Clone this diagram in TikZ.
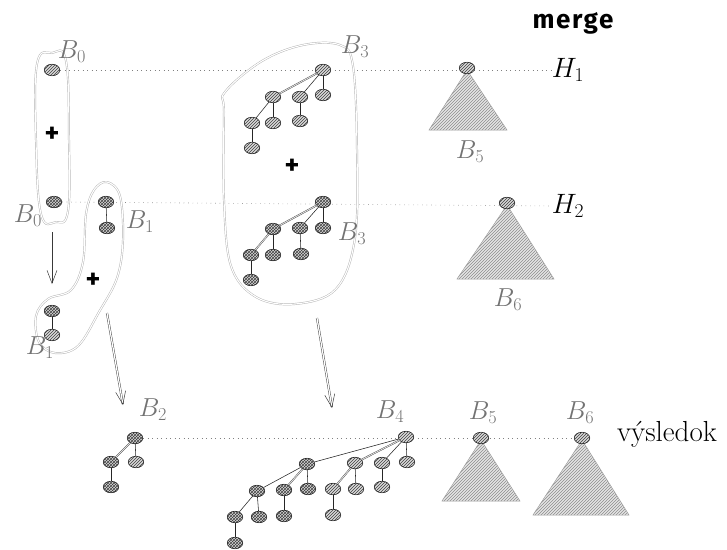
\RequirePackage{fix-cm}
\documentclass[tikz,border=0pt]{standalone}
\usepackage{fontspec}
\newfontfamily\handfont[LetterSpace=6]{Fira Sans}
\usetikzlibrary{shapes.geometric,patterns,arrows.meta,backgrounds}

\tikzset{
  heapnode/.style={ellipse, draw=black!85, line width=0.6pt,
    minimum width=15.5pt, minimum height=11.5pt, inner sep=0pt,
    preaction={fill=gray!30}},
  hn/.style={heapnode, pattern=north east lines, pattern color=black!75},
  cn/.style={heapnode, pattern=crosshatch, pattern color=black!75},
  tedge/.style={draw=black!85, line width=0.55pt},
  dedge/.style={draw=black!80, line width=0.35pt, double=gray!25, double distance=0.9pt},
  tri/.style={draw=gray!75, line width=0.5pt, preaction={fill=gray!20},
    pattern=north east lines, pattern color=gray!90},
  blob/.style={draw=gray!60, line width=0.45pt, double=white, double distance=1.1pt},
  dotline/.style={draw=black!50, line width=0.6pt, dash pattern=on 0.7pt off 3.8pt},
  lbl/.style={text=black!55, font=\fontsize{26}{30}\selectfont, inner sep=0pt},
  hlbl/.style={text=black, font=\fontsize{28}{32}\selectfont, inner sep=0pt},
  plussign/.style={font=\handfont\bfseries\fontsize{28}{30}\selectfont, inner sep=0pt},
  single arrow/.style={draw=gray!45!black, line width=0.5pt,
    -{Straight Barb[length=13pt, width=10pt, line width=0.5pt]}},
  double arrow/.style={draw=gray!45!black, line width=0.4pt, double=white,
    double distance=1.3pt, -{Straight Barb[length=13pt, width=10pt, line width=0.5pt]}},
}

\begin{document}
\begin{tikzpicture}[x=1pt, y=-1pt]
\useasboundingbox (0,0) rectangle (727,549);

% ---------- outlines of the heaps being merged ----------
\draw[blob] plot[smooth cycle, tension=0.7] coordinates
  {(52,53) (66,61) (69,140) (68,211) (56,222) (41,214) (36,140) (37,64)};
\draw[blob] plot[smooth cycle, tension=0.6] coordinates
  {(107,182) (120,196) (123,240) (117,278) (99,312) (78,346) (55,353)
   (39,342) (36,316) (48,299) (71,290) (83,262) (86,214) (94,190)};
\draw[blob] plot[smooth cycle, tension=0.6] coordinates
  {(225,92) (262,61) (303,45) (340,45) (353,66) (357,150) (355,238)
   (336,289) (295,304) (256,297) (231,266) (224,200) (224,112)};

% ---------- triangles of the big trees ----------
\draw[tri] (467,70) -- (429,130) -- (507,130) -- cycle;
\draw[tri] (507,205) -- (457,279) -- (554,279) -- cycle;
\draw[tri] (481,440) -- (442,501) -- (520,501) -- cycle;
\draw[tri] (582,440) -- (533,515) -- (629,515) -- cycle;

% ---------- heap H1 ----------
\node[hn] (b0a) at (52,70) {};
\node[hn] (t0) at (323,70) {};
\node[hn] (t1) at (273,97) {};
\node[hn] (t2) at (300,97) {};
\node[hn] (t3) at (323,95) {};
\node[hn] (t4) at (252,123) {};
\node[hn] (t5) at (273,123) {};
\node[hn] (t6) at (300,121) {};
\node[hn] (t7) at (252,148) {};
\draw[dedge] (t0) -- (t1);
\draw[tedge] (t0) -- (t2);
\draw[tedge] (t0) -- (t3);
\draw[tedge] (t1) -- (t4);
\draw[tedge] (t1) -- (t5);
\draw[tedge] (t2) -- (t6);
\draw[tedge] (t4) -- (t7);
\node[hn] (b5a) at (467,68) {};

% ---------- heap H2 ----------
\node[cn] (b0b) at (54,202) {};
\node[cn] (b1a) at (106,202) {};
\node[cn] (b1b) at (107,228) {};
\draw[tedge] (b1a) -- (b1b);
\node[cn] (u0) at (323,202) {};
\node[cn] (u1) at (273,229) {};
\node[cn] (u2) at (300,228) {};
\node[cn] (u3) at (323,228) {};
\node[cn] (u4) at (251,255) {};
\node[cn] (u5) at (273,255) {};
\node[cn] (u6) at (301,254) {};
\node[cn] (u7) at (251,280) {};
\draw[dedge] (u0) -- (u1);
\draw[tedge] (u0) -- (u2);
\draw[tedge] (u0) -- (u3);
\draw[dedge] (u1) -- (u4);
\draw[tedge] (u1) -- (u5);
\draw[tedge] (u2) -- (u6);
\draw[tedge] (u4) -- (u7);
\node[hn] (b6a) at (507,203) {};

% ---------- B1 obtained from B0 + B0 ----------
\node[cn] (b1c) at (52,311) {};
\node[hn] (b1d) at (52,335) {};
\draw[tedge] (b1c) -- (b1d);

% ---------- result heap ----------
\node[cn] (r0) at (135,438) {};
\node[cn] (r1) at (111,462) {};
\node[hn] (r2) at (136,462) {};
\node[cn] (r3) at (111,487) {};
\draw[dedge] (r0) -- (r1);
\draw[tedge] (r0) -- (r2);
\draw[tedge] (r1) -- (r3);

\node[hn] (s0) at (406,437) {};
\node[cn] (s1) at (307,464) {};
\node[hn] (s2) at (355,463) {};
\node[hn] (s3) at (382,463) {};
\node[hn] (s4) at (407,462) {};
\node[cn] (s5) at (257,491) {};
\node[cn] (s6) at (284,490) {};
\node[cn] (s7) at (308,489) {};
\node[cn] (s8) at (235,517) {};
\node[cn] (s9) at (259,517) {};
\node[cn] (s10) at (284,516) {};
\node[cn] (s11) at (235,543) {};
\node[hn] (s12) at (333,489) {};
\node[hn] (s13) at (356,489) {};
\node[hn] (s14) at (382,487) {};
\node[hn] (s15) at (333,515) {};
\draw[tedge] (s0) -- (s1);
\draw[dedge] (s0) -- (s2);
\draw[tedge] (s0) -- (s3);
\draw[tedge] (s0) -- (s4);
\draw[tedge] (s1) -- (s5);
\draw[dedge] (s1) -- (s6);
\draw[tedge] (s1) -- (s7);
\draw[tedge] (s5) -- (s8);
\draw[tedge] (s5) -- (s9);
\draw[tedge] (s6) -- (s10);
\draw[tedge] (s8) -- (s11);
\draw[dedge] (s2) -- (s12);
\draw[tedge] (s2) -- (s13);
\draw[tedge] (s3) -- (s14);
\draw[tedge] (s12) -- (s15);

\node[hn] (b5b) at (481,438) {};
\node[hn] (b6b) at (582,438) {};

% ---------- labels ----------
\node[lbl] (lb0a) at (72,52) {$B_0$};
\node[lbl] (lb0b) at (28,216) {$B_0$};
\node[lbl] (lb1a) at (140,222) {$B_1$};
\node[lbl] (lb1b) at (40,348) {$B_1$};
\node[lbl] (lb3a) at (355,47) {$B_3$};
\node[lbl] (lb3b) at (352,234) {$B_3$};
\node[lbl] (lb5a) at (470,152) {$B_5$};
\node[lbl] (lb6a) at (508,300) {$B_6$};
\node[lbl] (lb2) at (153,410) {$B_2$};
\node[lbl] (lb4) at (390,412) {$B_4$};
\node[lbl] (lb5b) at (483,413) {$B_5$};
\node[lbl] (lb6b) at (580,413) {$B_6$};
\node[hlbl] (h1) at (568,70) {$H_1$};
\node[hlbl] (h2) at (568,206) {$H_2$};
\node[text=black, font=\fontsize{29}{32}\selectfont, inner sep=0pt] (res) at (667,434) {výsledok};
\node[inner sep=0pt, font=\handfont\bfseries\fontsize{26}{30}\selectfont] (merge) at (573,23) {merge};

\node[plussign] (p1) at (52,135) {+};
\node[plussign] (p2) at (93,281) {+};
\node[plussign] (p3) at (292,167) {+};

% ---------- root lists ----------
\begin{scope}[on background layer]
\draw[dotline] (b0a.east) -- (h1.west);
\draw[dotline] (b0b.east) -- (h2.west);
\draw[dotline] (r0.east) -- (b6b.east);
\end{scope}

% ---------- arrows ----------
\coordinate (a1s) at (52,232);
\coordinate (a1e) at (52,284);
\coordinate (a2s) at (107,313);
\coordinate (a2e) at (123,405);
\coordinate (a3s) at (317,318);
\coordinate (a3e) at (332,408);
\draw[single arrow] (a1s) -- (a1e);
\draw[double arrow] (a2s) -- (a2e);
\draw[double arrow] (a3s) -- (a3e);
\end{tikzpicture}
\end{document}
